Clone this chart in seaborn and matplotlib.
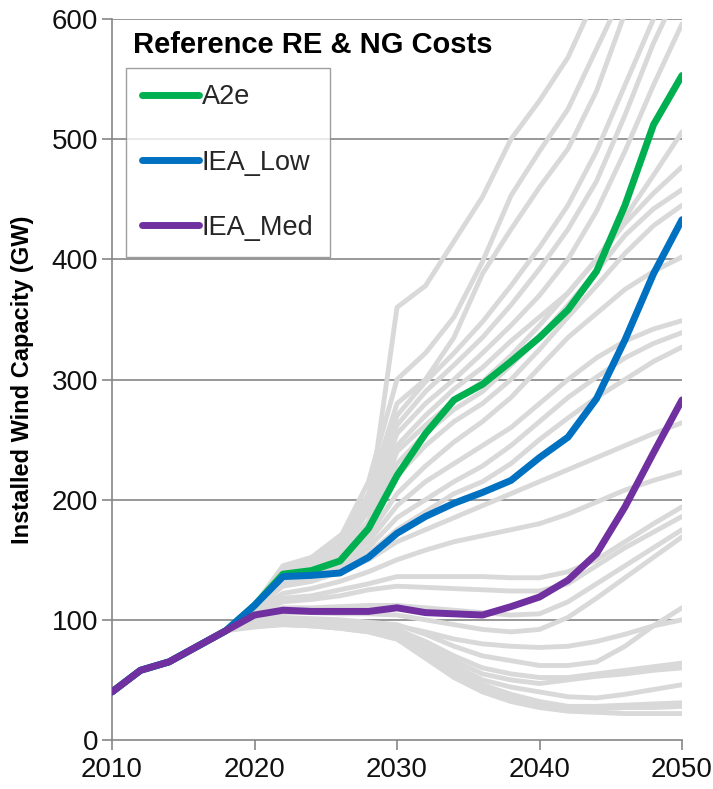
import matplotlib
matplotlib.use("Agg")
import matplotlib.pyplot as plt
import seaborn as sns
import pandas as pd

years = list(range(2010, 2051, 2))
history = [40, 58, 65, 78, 91]

a2e = history + [112, 138, 141, 149, 176, 220, 255, 283, 296, 315, 335, 358, 390, 445, 512, 553]
iea_low = history + [112, 136, 137, 139, 152, 172, 186, 197, 206, 216, 235, 252, 284, 333, 388, 433]
iea_med = history + [104, 108, 107, 107, 107, 110, 106, 105, 104, 111, 119, 133, 155, 194, 239, 283]

gray_runs = {
    "T1": [112, 145, 152, 170, 190, 360, 378, 415, 452, 500, 532, 568, 620, 670, 720, 770],
    "T2": [112, 142, 150, 168, 215, 300, 322, 352, 398, 453, 490, 525, 575, 625, 675, 725],
    "T3": [112, 140, 148, 165, 205, 280, 300, 335, 388, 425, 460, 492, 540, 605, 660, 710],
    "T4": [112, 139, 146, 162, 198, 270, 298, 322, 348, 378, 410, 445, 490, 545, 600, 650],
    "T5": [112, 138, 145, 160, 195, 262, 290, 312, 335, 362, 392, 425, 465, 520, 580, 630],
    "E596": [112, 138, 144, 158, 190, 255, 280, 300, 322, 345, 370, 400, 440, 490, 545, 596],
    "M14": [111, 137, 143, 155, 182, 245, 270, 292, 310, 332, 352, 372, 400, 435, 470, 506],
    "M13": [111, 137, 142, 155, 180, 240, 262, 282, 298, 320, 345, 372, 400, 430, 455, 477],
    "M12": [111, 136, 141, 152, 175, 230, 255, 275, 290, 312, 335, 362, 390, 420, 442, 458],
    "M11": [111, 136, 141, 152, 175, 220, 245, 265, 280, 300, 325, 352, 378, 405, 428, 445],
    "M10": [111, 135, 140, 150, 170, 205, 228, 248, 265, 285, 310, 335, 355, 375, 390, 402],
    "M9": [111, 133, 138, 148, 165, 195, 215, 230, 245, 260, 280, 300, 318, 332, 342, 349],
    "M8": [111, 132, 137, 145, 160, 185, 200, 215, 228, 245, 265, 285, 302, 318, 330, 339],
    "M7": [110, 130, 135, 142, 155, 175, 190, 205, 215, 230, 250, 268, 285, 300, 315, 327],
    "M6": [110, 128, 132, 140, 150, 165, 175, 185, 195, 205, 215, 225, 235, 245, 255, 264],
    "M5": [108, 122, 126, 132, 140, 150, 158, 165, 170, 175, 180, 188, 198, 208, 216, 223],
    "M1": [108, 118, 120, 125, 130, 136, 136, 136, 136, 135, 135, 140, 150, 165, 180, 194],
    "M2": [105, 115, 117, 120, 125, 128, 127, 126, 125, 124, 124, 130, 145, 160, 173, 186],
    "M3": [104, 110, 110, 111, 112, 112, 110, 108, 106, 104, 105, 115, 130, 145, 160, 175],
    "M4": [102, 106, 106, 105, 105, 104, 100, 96, 92, 90, 92, 102, 118, 135, 152, 169],
    "B1": [100, 102, 101, 100, 98, 96, 88, 78, 70, 66, 62, 62, 65, 78, 95, 110],
    "B2": [100, 101, 100, 99, 97, 95, 90, 84, 80, 78, 77, 78, 82, 88, 95, 100],
    "B3": [98, 100, 99, 97, 95, 92, 82, 70, 60, 55, 52, 52, 55, 58, 61, 64],
    "B4": [97, 99, 98, 96, 94, 90, 78, 66, 55, 50, 47, 50, 53, 55, 58, 60],
    "B5": [96, 98, 97, 95, 93, 88, 75, 62, 50, 44, 40, 36, 35, 38, 42, 46],
    "B6": [95, 97, 96, 94, 92, 86, 72, 58, 46, 38, 32, 28, 28, 29, 30, 31],
    "B7": [95, 96, 95, 93, 90, 84, 70, 55, 42, 35, 30, 27, 26, 27, 27, 28],
    "B8": [94, 96, 95, 93, 90, 84, 68, 52, 40, 32, 27, 24, 23, 22, 22, 22],
}

series_names = ["A2e", "IEA_Low", "IEA_Med"]
series_colors = ["#00b050", "#0070c0", "#7030a0"]
y_ticks = [0, 100, 200, 300, 400, 500, 600]
x_ticks = [2010, 2020, 2030, 2040, 2050]

sns.set_theme(style="white")
plt.rcParams["font.family"] = ["Liberation Sans", "DejaVu Sans"]

gray_rows = []
for run, vals in gray_runs.items():
    for yr, v in zip(years, history + vals):
        gray_rows.append({"year": yr, "value": v, "run": run})
df_gray = pd.DataFrame(gray_rows)

main_rows = []
for name, vals in zip(series_names, [a2e, iea_low, iea_med]):
    for yr, v in zip(years, vals):
        main_rows.append({"year": yr, "value": v, "scenario": name})
df_main = pd.DataFrame(main_rows)

fig = plt.figure(figsize=(7.13, 7.89), dpi=100)
ax = fig.add_axes([112 / 713, 1 - 740 / 789, 570 / 713, 721 / 789])

grid_c = "#868686"
for yv in y_ticks[1:]:
    ax.axhline(yv, color=grid_c, lw=1.2, zorder=0)

sns.lineplot(data=df_gray, x="year", y="value", units="run", estimator=None,
             color="#d9d9d9", lw=3.5, ax=ax, legend=False, zorder=2)
sns.lineplot(data=df_main, x="year", y="value", hue="scenario",
             hue_order=series_names, palette=series_colors, lw=5,
             ax=ax, zorder=3, solid_capstyle="round")

ax.set_xlim(2010, 2050)
ax.set_ylim(0, 600)
ax.set_xticks(x_ticks)
ax.set_yticks(y_ticks)
ax.tick_params(axis="both", labelsize=20, colors=grid_c, labelcolor="#111111",
               direction="out", length=7, width=1.2, left=True, bottom=True)
ax.tick_params(axis="x", pad=5)
ax.tick_params(axis="y", pad=3)
for s in ["top", "right"]:
    ax.spines[s].set_visible(False)
for s in ["left", "bottom"]:
    ax.spines[s].set_color(grid_c)
    ax.spines[s].set_linewidth(1.2)

ax.set_xlabel("")
ax.set_ylabel("Installed Wind Capacity (GW)", fontsize=17, fontweight="bold",
              color="black")
ax.yaxis.set_label_coords(-0.137, 0.5)

ax.text(0.037, 0.964, "Reference RE & NG Costs", transform=ax.transAxes,
        fontsize=21, fontweight="bold", ha="left", va="center", zorder=5,
        color="black")

handles, labels = ax.get_legend_handles_labels()
leg = ax.legend(handles, labels, loc="upper left", bbox_to_anchor=(0.0246, 0.932),
                fontsize=19.5, frameon=True, fancybox=False, borderaxespad=0,
                handlelength=2.1, handletextpad=0.1, labelspacing=1.45,
                borderpad=0.6, title=None)
leg.get_frame().set_edgecolor(grid_c)
leg.get_frame().set_linewidth(1.0)
for lh in leg.get_lines():
    lh.set_linewidth(5)
    lh.set_solid_capstyle("round")
leg.set_zorder(6)

fig.savefig("out.png", dpi=100)
